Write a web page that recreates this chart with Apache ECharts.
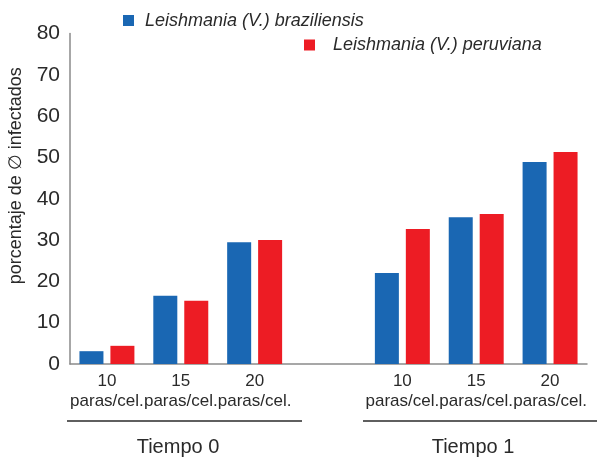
<!DOCTYPE html>
<html>
<head>
<meta charset="utf-8">
<script src="https://cdn.jsdelivr.net/npm/echarts@6/dist/echarts.min.js"></script>
<style>
html,body{margin:0;padding:0;background:#fff;}
#chart{width:597px;height:457px;}
</style>
</head>
<body>
<div id="chart"></div>
<script>
var categories = ['10\nparas/cel.', '15\nparas/cel.', '20\nparas/cel.', '', '10\nparas/cel.', '15\nparas/cel.', '20\nparas/cel.'];
var seriesNames = ['Leishmania (V.) braziliensis', 'Leishmania (V.) peruviana'];
var braziliensis = [3.1, 16.5, 29.5, null, 22.0, 35.5, 48.9];
var peruviana = [4.4, 15.3, 30.0, null, 32.7, 36.3, 51.3];
var groupLabels = ['Tiempo 0', 'Tiempo 1'];
var yTicks = {min: 0, max: 80, interval: 10};

var FONT = '"Liberation Sans", Arial, Helvetica, sans-serif';
var chart = echarts.init(document.getElementById('chart'), null, {renderer: 'canvas'});
var option = {
  backgroundColor: '#fff',
  animation: false,
  textStyle: {fontFamily: FONT},
  grid: {left: 70, right: 10, top: 33.5, bottom: 93, containLabel: false, outerBoundsMode: 'none'},
  legend: [
    {
      data: [seriesNames[0]], left: 123, top: 11.5, padding: 0,
      itemWidth: 11, itemHeight: 11, icon: 'rect',
      textStyle: {fontSize: 18, fontStyle: 'italic', color: '#2a2a2a', fontFamily: FONT, padding: [0, 0, 0, 6]}
    },
    {
      data: [seriesNames[1]], left: 304, top: 36, padding: 0,
      itemWidth: 11, itemHeight: 11, icon: 'rect',
      textStyle: {fontSize: 18, fontStyle: 'italic', color: '#2a2a2a', fontFamily: FONT, padding: [0, 0, 0, 13]}
    }
  ],
  xAxis: {
    type: 'category',
    data: categories,
    axisLine: {lineStyle: {color: '#8a8a8a', width: 1.5}},
    axisTick: {show: false},
    axisLabel: {interval: 0, fontSize: 17, lineHeight: 20, color: '#2a2a2a', margin: 7, fontFamily: FONT}
  },
  yAxis: {
    type: 'value',
    min: yTicks.min, max: yTicks.max, interval: yTicks.interval,
    name: 'porcentaje de \u2205 infectados',
    nameLocation: 'middle',
    nameGap: 45,
    nameTextStyle: {fontSize: 18, color: '#2a2a2a', fontFamily: FONT, padding: [0, 0, 0, 46]},
    axisLine: {show: true, lineStyle: {color: '#8a8a8a', width: 1.5}},
    axisTick: {show: false},
    splitLine: {show: false},
    axisLabel: {fontSize: 21, color: '#2a2a2a', margin: 10, fontFamily: FONT}
  },
  series: [
    {name: seriesNames[0], type: 'bar', data: braziliensis, barWidth: 24, barGap: '29%', itemStyle: {color: '#1a67b3'}},
    {name: seriesNames[1], type: 'bar', data: peruviana, barWidth: 24, barGap: '29%', itemStyle: {color: '#ed1c24'}}
  ],
  graphic: [
    {type: 'line', shape: {x1: 67, y1: 421, x2: 302, y2: 421}, style: {stroke: '#2a2a2a', lineWidth: 1.6}},
    {type: 'line', shape: {x1: 363, y1: 421, x2: 597, y2: 421}, style: {stroke: '#2a2a2a', lineWidth: 1.6}},
    {type: 'text', x: 178, y: 447, style: {text: groupLabels[0], fontSize: 20, fill: '#2a2a2a', align: 'center', verticalAlign: 'middle', fontFamily: FONT}},
    {type: 'text', x: 473, y: 447, style: {text: groupLabels[1], fontSize: 20, fill: '#2a2a2a', align: 'center', verticalAlign: 'middle', fontFamily: FONT}}
  ]
};
chart.setOption(option);
</script>
</body>
</html>
